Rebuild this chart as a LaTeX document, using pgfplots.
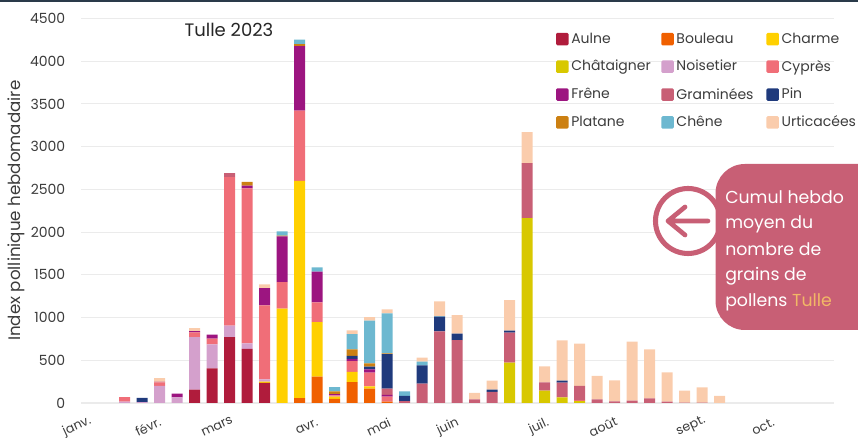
\documentclass[border=0pt]{standalone}
\usepackage{fontspec}
\usepackage{pgfplots}
\usepackage{pgfplotstable}
\pgfplotsset{compat=1.18}
\setmainfont{Poppins}

\definecolor{aulne}{HTML}{B01C3C}
\definecolor{bouleau}{HTML}{F06000}
\definecolor{charme}{HTML}{FFD000}
\definecolor{chataignier}{HTML}{D8C800}
\definecolor{noisetier}{HTML}{D4A0CC}
\definecolor{cypres}{HTML}{F06E78}
\definecolor{frene}{HTML}{9C1580}
\definecolor{graminees}{HTML}{C85F75}
\definecolor{pin}{HTML}{1F3A7C}
\definecolor{platane}{HTML}{CC8012}
\definecolor{chene}{HTML}{6DB8D0}
\definecolor{urticacees}{HTML}{FACCAC}
\definecolor{gridc}{HTML}{EBEBEB}
\definecolor{txt}{HTML}{3C3C3C}
\definecolor{topbar}{HTML}{2A3A4A}
\definecolor{tullec}{HTML}{F2B866}

% one row per week, values are the height of each segment
\pgfplotstableread{
i  Au  Bo  Ch   Ct   No  Cy   Fr  Gr  Pi  Pl Cn  Ur
2  0   0   0    0    15  55   0   0   0   0  0   0
3  0   0   0    0    10  0    0   0   50  0  0   0
4  0   0   0    0    200 40   0   10  0   0  0   40
5  0   0   0    0    65  0    45  0   0   0  0   0
6  156 0   0    0    616 55   15  0   0   0  0   35
7  405 0   0    0    281 66   48  0   0   0  0   0
8  772 0   0    0    133 1738 0   47  0   0  0   0
9  632 0   0    0    66  1815 30  0   0   45 0   0
10 234 0   16   0    27  865  203 0   0   0  0   43
11 0   0   1103 0    0   312  535 0   0   10 48  0
12 0   58  2542 0    0   820  755 0   0   25 53  0
13 0   308 639  0    0   230  359 0   0   0  51  0
14 0   47  27   0    0   16   15  0   0   32 50  0
15 0   245 118  0    0   128  24  0   35  78 179 43
16 0   168 27   0    0   160  39  0   31  39 499 43
17 0   15  0    0    0   60   19  74  405 7  469 46
18 0   0   0    0    0   0    0   23  59  0  54  0
19 0   0   0    0    0   0    0   226 214 0  43  47
20 0   0   0    0    0   0    0   838 172 0  8   171
21 0   0   0    0    0   0    0   737 74  0  0   218
22 0   0   0    0    0   0    0   43  0   0  0   74
23 0   0   0    0    0   0    0   129 27  0  0   105
24 0   0   0    472  0   0    0   351 23  0  0   359
25 0   0   0    2164 0   0    0   643 0   0  0   363
26 0   0   0    144  0   0    0   98  0   0  0   187
27 0   0   0    66   0   0    0   172 23  0  0   472
28 0   0   0    23   0   12   0   164 0   0  0   495
29 0   0   0    0    0   0    0   43  0   0  0   273
30 0   0   0    0    0   0    0   20  0   0  0   245
31 0   0   0    0    0   0    0   27  0   0  0   690
32 0   0   0    0    0   0    0   55  0   0  0   573
33 0   0   0    0    0   0    0   16  0   0  0   343
34 0   0   0    0    0   0    0   3   0   0  0   141
35 0   0   0    0    0   0    0   3   0   0  0   180
36 0   0   0    0    0   0    0   0   0   0  0   84
}\pollens

\begin{document}
\begin{tikzpicture}
\useasboundingbox (0,0) rectangle (643.5pt,328.5pt);
\begin{axis}[
	at={(60.75pt,26.25pt)},
	anchor=south west,
	scale only axis,
	width=564.75pt,
	height=288.4pt,
	ybar stacked,
	bar width=8.25pt,
	xmin=-0.5, xmax=42.53,
	ymin=0, ymax=4500,
	ytick={0,500,...,4500},
	/pgf/number format/assume math mode=true,
	/pgf/number format/1000 sep={},
	xtick={-0.5,3.56,7.5,12.64,16.73,20.7,25.9,29.56,34.59,38.7},
	xticklabels={janv.,févr.,mars,avr.,mai,juin,juil.,août,sept.,oct.},
	xticklabel style={anchor=center,xshift=-3pt,yshift=-17.8pt,rotate=25,font=\fontsize{9.5}{11}\selectfont,text=txt},
	yticklabel style={xshift=-8.25pt,font=\fontsize{10.5}{12}\selectfont,text=txt},
	major tick length=0pt,
	axis line style={draw=none},
	ymajorgrids=true,
	grid style={gridc,line width=0.8pt},
	ylabel={Index pollinique hebdomadaire},
	ylabel style={at={(axis description cs:-0.0863,0.5)},anchor=center,font=\fontsize{12.5}{14}\selectfont,text=txt},
	title={Tulle 2023},
	title style={at={(axis description cs:0.1965,0.949)},anchor=center,font=\fontsize{13.5}{15}\selectfont,text=black!85},
	legend columns=3,
	legend cell align=left,
	legend style={at={(axis description cs:0.627,0.977)},anchor=north west,draw=none,fill=none,
		font=\fontsize{10.5}{12}\selectfont,text=txt,inner sep=2pt,
		nodes={text width=65.5pt,anchor=west},row sep=7.2pt},
	legend image code/.code={\fill[#1,rounded corners=1pt] (0pt,-4.7pt) rectangle (9.4pt,4.7pt);},
]
\addplot[fill=aulne,draw=none] table[x=i,y=Au] {\pollens};
\addlegendentry{Aulne}
\addplot[fill=bouleau,draw=none] table[x=i,y=Bo] {\pollens};
\addlegendentry{Bouleau}
\addplot[fill=charme,draw=none] table[x=i,y=Ch] {\pollens};
\addlegendentry{Charme}
\addplot[fill=chataignier,draw=none] table[x=i,y=Ct] {\pollens};
\addlegendentry{Châtaigner}
\addplot[fill=noisetier,draw=none] table[x=i,y=No] {\pollens};
\addlegendentry{Noisetier}
\addplot[fill=cypres,draw=none] table[x=i,y=Cy] {\pollens};
\addlegendentry{Cyprès}
\addplot[fill=frene,draw=none] table[x=i,y=Fr] {\pollens};
\addlegendentry{Frêne}
\addplot[fill=graminees,draw=none] table[x=i,y=Gr] {\pollens};
\addlegendentry{Graminées}
\addplot[fill=pin,draw=none] table[x=i,y=Pi] {\pollens};
\addlegendentry{Pin}
\addplot[fill=platane,draw=none] table[x=i,y=Pl] {\pollens};
\addlegendentry{Platane}
\addplot[fill=chene,draw=none] table[x=i,y=Cn] {\pollens};
\addlegendentry{Chêne}
\addplot[fill=urticacees,draw=none] table[x=i,y=Ur] {\pollens};
\addlegendentry{Urticacées}
\end{axis}
% callout, in pixel coordinates of the reference
\begin{scope}[x=0.75pt,y=-0.75pt,yshift=328.5pt]
	\clip (0,0) rectangle (858,438);
	\fill[topbar] (0,0) rectangle (858,2);
	\draw[graminees,fill=white,line width=3.8pt] (688,221) circle (32.5);
	\fill[graminees,rounded corners=22pt] (715.5,164) rectangle (900,330);
	\draw[graminees,line width=3.5pt,line cap=round,line join=round]
		(708,221) -- (668,221) (685,207) -- (668,221) -- (685,235);
	\begin{scope}[every node/.style={anchor=base west,inner sep=0pt,text=white,font=\fontsize{13}{15}\selectfont}]
		\node at (725,204) {Cumul hebdo};
		\node at (725,229) {moyen du};
		\node at (725,256) {nombre de};
		\node at (725,281) {grains de};
		\node at (725,307) {pollens \textcolor{tullec}{Tulle}};
	\end{scope}
\end{scope}
\end{tikzpicture}
\end{document}
